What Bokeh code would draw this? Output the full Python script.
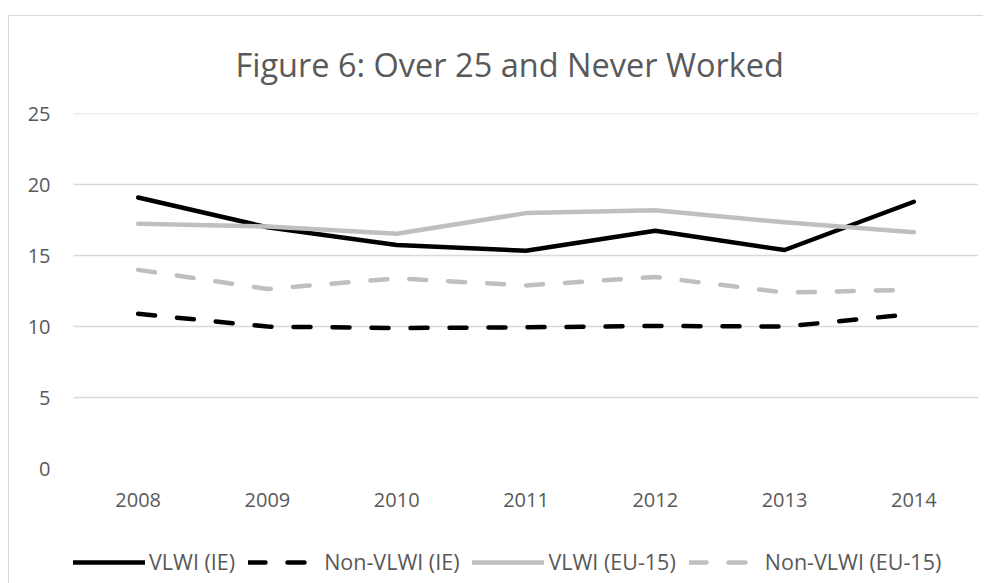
from bokeh.plotting import figure
from bokeh.layouts import column
from bokeh.models import Range1d, FactorRange, SingleIntervalTicker, Legend, LegendItem, Title
from bokeh.embed import file_html
from bokeh.resources import INLINE

years = ["2008", "2009", "2010", "2011", "2012", "2013", "2014"]
vlwi_ie = [19.1, 17.0, 15.75, 15.35, 16.75, 15.4, 18.8]
non_vlwi_ie = [10.9, 10.0, 9.9, 9.95, 10.05, 10.0, 10.9]
vlwi_eu15 = [17.25, 17.05, 16.55, 18.0, 18.2, 17.35, 16.65]
non_vlwi_eu15 = [14.0, 12.65, 13.4, 12.9, 13.5, 12.4, 12.6]
series_names = ["VLWI (IE)", "Non-VLWI (IE)", "VLWI (EU-15)", "Non-VLWI (EU-15)"]
title_text = "Figure 6: Over 25 and Never Worked"

TEXT = "#595959"
FONT = "Open Sans"
BORDER = "1px solid #d9d9d9"
styles = [dict(line_color="black"), dict(line_color="black", line_dash="17 22"),
          dict(line_color="#bfbfbf"), dict(line_color="#bfbfbf", line_dash="17 22")]

p = figure(x_range=FactorRange(*years), y_range=Range1d(0, 25.02),
           width=975, height=513, title=None,
           min_border_left=64, min_border_right=6, min_border_top=97, min_border_bottom=61,
           output_backend="svg", toolbar_location=None)
p.margin = (15, 0, 0, 8)
p.styles = {"border-top": BORDER, "border-left": BORDER, "box-sizing": "border-box"}
p.outline_line_color = None

p.add_layout(Title(text=title_text, align="left", offset=162, standoff=50,
                   vertical_align="top",
                   text_font=FONT, text_font_size="32.5px",
                   text_font_style="normal", text_color=TEXT), "above")

for ax in (p.xaxis[0], p.yaxis[0]):
    ax.axis_line_color = None
    ax.major_tick_line_color = None
    ax.minor_tick_line_color = None
    ax.major_label_text_font = FONT
    ax.major_label_text_font_size = "20px"
    ax.major_label_text_color = TEXT
p.yaxis[0].ticker = SingleIntervalTicker(interval=5)
p.yaxis[0].major_label_standoff = 17
p.xaxis[0].major_label_standoff = 18

p.xgrid.grid_line_color = None
p.ygrid.grid_line_color = "#d9d9d9"
p.ygrid.grid_line_width = 1.3
p.ygrid.ticker = SingleIntervalTicker(interval=5)

for vals, st in zip([vlwi_ie, non_vlwi_ie, vlwi_eu15, non_vlwi_eu15], styles):
    p.line(years, vals, line_width=4.5, line_join="round", line_cap="round", **st)

# legend strip below the chart
lg = figure(width=975, height=55, x_range=Range1d(0, 1), y_range=Range1d(0, 1),
            x_axis_location=None, y_axis_location=None,
            min_border_left=0, min_border_right=0, min_border_top=0, min_border_bottom=0,
            output_backend="svg", toolbar_location=None)
lg.margin = (0, 0, 0, 8)
lg.styles = {"border-left": BORDER, "box-sizing": "border-box"}
lg.grid.grid_line_color = None
lg.outline_line_color = None
items = []
for name, st in zip(series_names, styles):
    # single-point line: draws nothing itself, only provides the legend swatch
    r = lg.line([0], [0], line_width=4.5, line_cap="round", **st)
    items.append(LegendItem(label=name, renderers=[r]))
legend = Legend(items=items, orientation="horizontal", location=(0, 7),
                glyph_width=72, glyph_height=20, label_standoff=4, spacing=13,
                label_text_font=FONT, label_text_font_size="21.5px", label_text_color=TEXT,
                border_line_color=None, background_fill_alpha=0, padding=0, margin=0)
lg.add_layout(legend, "center")

layout = column(p, lg, spacing=0)
open("out.html", "w").write(file_html(layout, INLINE))
